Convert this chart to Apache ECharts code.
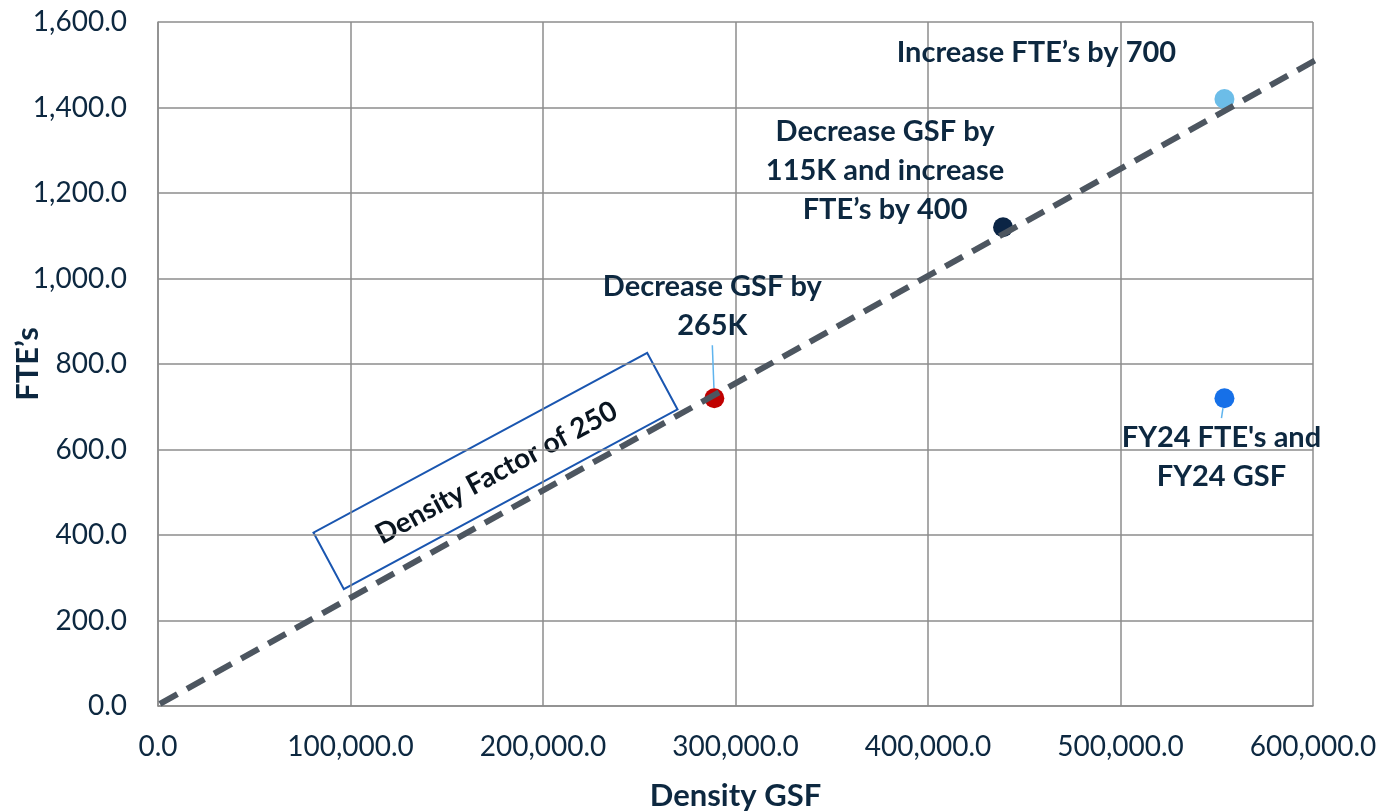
<!DOCTYPE html>
<html>
<head>
<meta charset="utf-8">
<script src="https://cdn.jsdelivr.net/npm/echarts@6/dist/echarts.min.js"></script>
<style>html,body{margin:0;padding:0;background:#fff}#c{width:1380px;height:811px}</style>
</head>
<body>
<div id="c"></div>
<script>
var pointNames = ["FY24 FTE's and\nFY24 GSF", "Decrease GSF by\n265K", "Decrease GSF by\n115K and increase\nFTE\u2019s by 400", "Increase FTE\u2019s by 700"];
var gsfValues = [554000, 289000, 439000, 554000];
var fteValues = [720, 720, 1120, 1420];
var pointColors = ['#1670e8', '#c00000', '#0b2545', '#6cbde8'];
var trendX = [1000, 603000];
var trendY = [5, 1515];
var xTicks = [0, 100000, 200000, 300000, 400000, 500000, 600000];
var yTicks = [0, 200, 400, 600, 800, 1000, 1200, 1400, 1600];

var FONT = 'Lato';
var TXT = '#0d2840';
function fmt(v){ return Number(v).toLocaleString('en-US',{minimumFractionDigits:1,maximumFractionDigits:1}); }

var labelShift = [
  {dx:-3, dy:59, line:true},
  {dx:-2, dy:-92, line:true},
  {dx:-118, dy:-57, line:false},
  {dx:-188, dy:-46, line:false}
];

var scatterData = gsfValues.map(function(x,i){
  return {
    name: pointNames[i],
    value: [x, fteValues[i]],
    itemStyle: {color: pointColors[i], opacity:1},
    labelLine: {show: labelShift[i].line}
  };
});

var chart = echarts.init(document.getElementById('c'));
chart.setOption({
  animation:false,
  grid:{left:158, right:67, top:22, bottom:105, show:false, containLabel:false, outerBoundsMode:'none'},
  xAxis:{
    type:'value', min:0, max:600000, interval:100000,
    name:'Density GSF', nameLocation:'middle', nameGap:74,
    nameTextStyle:{fontFamily:FONT, fontSize:31, fontWeight:'bold', color:TXT},
    axisLine:{show:true, lineStyle:{color:'#8c8c8c', width:1.5}},
    axisTick:{show:false},
    axisLabel:{fontFamily:FONT, fontSize:28, color:TXT, margin:27, formatter:function(v){return fmt(v);}},
    splitLine:{show:true, lineStyle:{color:'#8c8c8c', width:1.5}}
  },
  yAxis:{
    type:'value', min:0, max:1600, interval:200,
    name:'FTE\u2019s', nameLocation:'middle', nameGap:115, nameMoveOverlap:false,
    nameTextStyle:{fontFamily:FONT, fontSize:31, fontWeight:'bold', color:TXT},
    axisLine:{show:true, lineStyle:{color:'#8c8c8c', width:1.5}},
    axisTick:{show:false},
    axisLabel:{fontFamily:FONT, fontSize:28, color:TXT, margin:31, formatter:function(v){return fmt(v);}},
    splitLine:{show:true, lineStyle:{color:'#8c8c8c', width:1.5}}
  },
  graphic:[{
    type:'group', x:495.5, y:471, rotation:0.494, z:1,
    children:[
      {type:'rect', shape:{x:-189.5, y:-32, width:379, height:64},
       style:{fill:'rgba(255,255,255,0.65)', stroke:'#1a56b0', lineWidth:2}},
      {type:'text', x:0, y:2, style:{text:'Density Factor of 250', fontFamily:FONT, fontSize:28, fontWeight:'bold',
        fill:'#0a1520', align:'center', verticalAlign:'middle'}}
    ]
  }],
  series:[
    {
      type:'scatter', symbolSize:20, z:2,
      data:scatterData,
      itemStyle:{opacity:1},
      label:{show:true, position:'inside', formatter:function(p){return p.name;},
        fontFamily:FONT, fontSize:29, fontWeight:'bold', color:TXT, lineHeight:39, align:'center', opacity:1},
      labelLine:{show:true, lineStyle:{color:'#5fb4ee', width:1.5}},
      labelLayout:function(p){ var s = labelShift[p.dataIndex]; return {dx:s.dx, dy:s.dy}; }
    },
    {
      type:'line', z:3, symbol:'none', silent:true, clip:false,
      data:trendX.map(function(x,i){return [x, trendY[i]];}),
      lineStyle:{color:'#4d5660', width:6, type:[20,11]}
    }
  ]
});
</script>
</body>
</html>
